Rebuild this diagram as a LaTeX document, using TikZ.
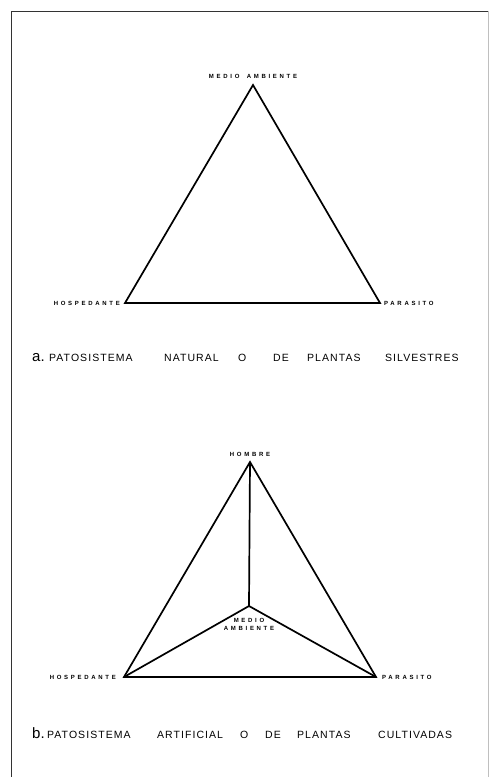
\documentclass[tikz,border=0pt]{standalone}
\usepackage{fontspec}
\setsansfont{Liberation Sans}
\usetikzlibrary{positioning}

\begin{document}
\begin{tikzpicture}[
      x=1pt, y=-1pt,
      vertex/.style={font=\sffamily\bfseries\fontsize{6}{7}\selectfont\addfontfeatures{LetterSpace=45},
        inner sep=0pt, align=center},
      caption/.style={font=\sffamily\fontsize{10.5}{12}\selectfont\addfontfeatures{LetterSpace=10},
        inner sep=0pt, anchor=base west},
      letter/.style={font=\sffamily\fontsize{15}{16}\selectfont, inner sep=0pt, anchor=base west},
      edge/.style={line width=1.7pt, line join=miter},
      frame/.style={line width=0.9pt, draw=black!80}
    ]
    \useasboundingbox (0,0) rectangle (489,777);
    \draw[frame] (11,777) -- (11,11) -- (488,11);
    \draw[frame, draw=black!25] (488,11) -- (488,777);

    % a. natural
    \coordinate (ambA) at (253,85);
    \coordinate (hospA) at (125,303);
    \coordinate (parA) at (380,303);
    \draw[edge] (ambA) -- (parA) -- (hospA) -- cycle;
    \node[vertex, above=6pt of ambA] (ambAlabel) {MEDIO\hspace{3pt} AMBIENTE};
    \node[vertex, left=5pt of hospA] (hospAlabel) {HOSPEDANTE};
    \node[vertex, right=4pt of parA] (parAlabel) {PARASITO};

    \node[letter] (capA) at (32,361) {a.};
    \foreach \w/\x [count=\i] in {PATOSISTEMA/49, NATURAL/164, O/238, DE/273,
        PLANTAS/307, SILVESTRES/385}
      \node[caption] (capA\i) at (\x,361) {\w};

    % b. artificial
    \coordinate (homB) at (250,462);
    \coordinate (ambB) at (249,606);
    \coordinate (hospB) at (124,677);
    \coordinate (parB) at (376,677);
    \draw[edge] (homB) -- (parB) -- (hospB) -- cycle;
    \draw[edge] (homB) -- (ambB);
    \draw[edge] (hospB) -- (ambB) -- (parB);
    \node[vertex, above=5pt of homB] (homBlabel) {HOMBRE};
    \node[vertex, below=12pt of ambB] (ambBlabel) {MEDIO\\[1pt]AMBIENTE};
    \node[vertex, left=8pt of hospB] (hospBlabel) {HOSPEDANTE};
    \node[vertex, right=6pt of parB] (parBlabel) {PARASITO};

    \node[letter] (capB) at (32,738) {b.};
    \foreach \w/\x [count=\i] in {PATOSISTEMA/47, ARTIFICIAL/157, O/240, DE/265,
        PLANTAS/297, CULTIVADAS/378}
      \node[caption] (capB\i) at (\x,738) {\w};
\end{tikzpicture}
\end{document}
